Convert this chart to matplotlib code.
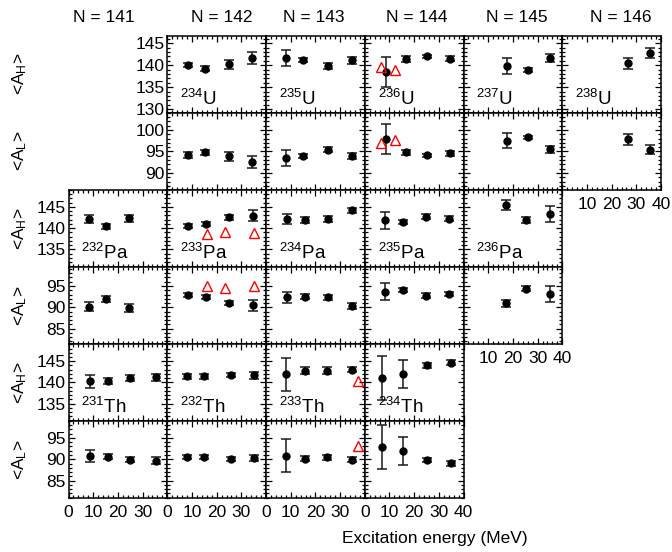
import matplotlib
matplotlib.use("Agg")
import matplotlib.pyplot as plt
from matplotlib.ticker import MultipleLocator, FixedLocator, NullFormatter

plt.rcParams['font.family'] = ['Liberation Sans', 'DejaVu Sans']
plt.rcParams['mathtext.fontset'] = 'custom'
plt.rcParams['mathtext.rm'] = 'Liberation Sans'
plt.rcParams['mathtext.it'] = 'Liberation Sans:italic'

# ---------------- data ----------------
columns = ["N = 141", "N = 142", "N = 143", "N = 144", "N = 145", "N = 146"]

# Uranium
E_234U = [8.6, 15.4, 25.1, 34.3]
AH_234U = [140.0, 139.25, 140.2, 141.65]
AHe_234U = [0.5, 0.6, 1.0, 1.45]
AL_234U = [94.17, 94.86, 93.85, 92.54]
ALe_234U = [0.6, 0.6, 1.0, 1.4]

E_235U = [8.0, 15.1, 25.2, 34.7]
AH_235U = [141.7, 141.2, 139.85, 141.1]
AHe_235U = [1.8, 0.5, 0.7, 0.8]
AL_235U = [93.5, 94.0, 95.4, 94.0]
ALe_235U = [1.85, 0.5, 0.6, 0.7]

E_236U = [8.5, 16.6, 25.2, 34.7]
AH_236U = [138.5, 141.4, 142.0, 141.5]
AHe_236U = [3.4, 0.6, 0.4, 0.5]
AL_236U = [97.9, 94.8, 94.1, 94.55]
ALe_236U = [3.5, 0.5, 0.4, 0.5]
Etri_236U = [6.4, 12.4]
AHtri_236U = [139.7, 138.9]
ALtri_236U = [96.9, 97.7]

E_237U = [17.7, 26.0, 35.2]
AH_237U = [139.85, 138.9, 141.65]
AHe_237U = [1.8, 0.4, 1.0]
AL_237U = [97.5, 98.3, 95.55]
ALe_237U = [1.8, 0.4, 0.8]

E_238U = [26.6, 35.6]
AH_238U = [140.4, 142.7]
AHe_238U = [1.3, 1.1]
AL_238U = [97.85, 95.4]
ALe_238U = [1.3, 1.0]

# Protactinium
E_232Pa = [8.2, 15.0, 24.4]
AH_232Pa = [142.1, 140.4, 142.35]
AHe_232Pa = [1.0, 0.6, 0.8]
AL_232Pa = [90.15, 91.95, 89.9]
ALe_232Pa = [1.0, 0.6, 0.9]

E_233Pa = [8.4, 15.7, 25.1, 34.7]
AH_233Pa = [140.55, 140.9, 142.5, 142.95]
AHe_233Pa = [0.5, 0.5, 0.6, 1.3]
AL_233Pa = [92.9, 92.5, 90.95, 90.5]
ALe_233Pa = [0.5, 0.5, 0.5, 1.3]
Etri_233Pa = [16.1, 23.2, 35.2]
AHtri_233Pa = [138.7, 139.2, 138.8]
ALtri_233Pa = [94.9, 94.6, 94.9]

E_234Pa = [8.6, 15.8, 25.2, 35.0]
AH_234Pa = [142.1, 141.95, 142.2, 144.2]
AHe_234Pa = [1.2, 0.7, 0.7, 0.6]
AL_234Pa = [92.3, 92.5, 92.3, 90.3]
ALe_234Pa = [1.25, 0.6, 0.7, 0.6]

E_235Pa = [8.1, 15.3, 25.0, 34.2]
AH_235Pa = [141.9, 141.4, 142.7, 142.25]
AHe_235Pa = [2.0, 0.5, 0.5, 0.5]
AL_235Pa = [93.7, 94.1, 92.75, 93.15]
ALe_235Pa = [2.0, 0.5, 0.5, 0.5]

E_236Pa = [17.1, 25.4, 35.2]
AH_236Pa = [145.45, 142.0, 143.35]
AHe_236Pa = [1.1, 0.7, 1.9]
AL_236Pa = [90.95, 94.4, 93.1]
ALe_236Pa = [0.8, 0.6, 1.9]

# Thorium
E_231Th = [8.8, 16.0, 25.0, 35.4]
AH_231Th = [140.25, 140.4, 141.0, 141.2]
AHe_231Th = [1.5, 0.7, 0.7, 0.8]
AL_231Th = [90.7, 90.55, 89.9, 89.7]
ALe_231Th = [1.4, 0.6, 0.6, 0.8]

E_232Th = [7.9, 15.0, 25.7, 35.1]
AH_232Th = [141.4, 141.4, 141.8, 141.65]
AHe_232Th = [0.6, 0.6, 0.5, 0.8]
AL_232Th = [90.55, 90.55, 90.05, 90.2]
ALe_232Th = [0.5, 0.5, 0.5, 0.7]

E_233Th = [8.1, 15.8, 24.7, 34.7]
AH_233Th = [141.95, 142.75, 142.75, 143.05]
AHe_233Th = [3.9, 0.8, 0.8, 0.7]
AL_233Th = [90.85, 90.15, 90.45, 89.85]
ALe_233Th = [3.9, 0.6, 0.6, 0.6]
Etri_233Th = [37.1]
AHtri_233Th = [140.4]
ALtri_233Th = [93.05]

E_234Th = [7.1, 15.6, 25.2, 34.8]
AH_234Th = [141.0, 141.95, 144.0, 144.7]
AHe_234Th = [5.2, 3.3, 0.6, 0.6]
AL_234Th = [92.8, 92.0, 89.85, 89.05]
ALe_234Th = [5.2, 3.3, 0.5, 0.6]

# (mass, element, row block, column, E, AH, AHerr, AL, ALerr, triangles)
nuclides = [
    ("234", "U", 0, 1, E_234U, AH_234U, AHe_234U, AL_234U, ALe_234U, None),
    ("235", "U", 0, 2, E_235U, AH_235U, AHe_235U, AL_235U, ALe_235U, None),
    ("236", "U", 0, 3, E_236U, AH_236U, AHe_236U, AL_236U, ALe_236U,
     (Etri_236U, AHtri_236U, ALtri_236U)),
    ("237", "U", 0, 4, E_237U, AH_237U, AHe_237U, AL_237U, ALe_237U, None),
    ("238", "U", 0, 5, E_238U, AH_238U, AHe_238U, AL_238U, ALe_238U, None),
    ("232", "Pa", 1, 0, E_232Pa, AH_232Pa, AHe_232Pa, AL_232Pa, ALe_232Pa, None),
    ("233", "Pa", 1, 1, E_233Pa, AH_233Pa, AHe_233Pa, AL_233Pa, ALe_233Pa,
     (Etri_233Pa, AHtri_233Pa, ALtri_233Pa)),
    ("234", "Pa", 1, 2, E_234Pa, AH_234Pa, AHe_234Pa, AL_234Pa, ALe_234Pa, None),
    ("235", "Pa", 1, 3, E_235Pa, AH_235Pa, AHe_235Pa, AL_235Pa, ALe_235Pa, None),
    ("236", "Pa", 1, 4, E_236Pa, AH_236Pa, AHe_236Pa, AL_236Pa, ALe_236Pa, None),
    ("231", "Th", 2, 0, E_231Th, AH_231Th, AHe_231Th, AL_231Th, ALe_231Th, None),
    ("232", "Th", 2, 1, E_232Th, AH_232Th, AHe_232Th, AL_232Th, ALe_232Th, None),
    ("233", "Th", 2, 2, E_233Th, AH_233Th, AHe_233Th, AL_233Th, ALe_233Th,
     (Etri_233Th, AHtri_233Th, ALtri_233Th)),
    ("234", "Th", 2, 3, E_234Th, AH_234Th, AHe_234Th, AL_234Th, ALe_234Th, None),
]

ylims_AH = [(129.2, 146.7), (130.9, 149.0), (130.9, 149.1)]
ylims_AL = [(86.1, 104.0), (81.4, 99.5), (80.9, 99.0)]
yticks_AH = [[130, 135, 140, 145], [135, 140, 145], [135, 140, 145]]
yticks_AL = [[90, 95, 100], [85, 90, 95], [85, 90, 95]]
first_col = [1, 0, 0]

# ---------------- layout ----------------
W, H = 672, 552
fig = plt.figure(figsize=(W / 100, H / 100), dpi=100)
X0, CW = 68.5, 98.75
Y0, RH = 35.7, 77.05
FS = 12.5


def make_ax(row, col):
    xl = X0 + col * CW
    yt = Y0 + row * RH
    ax = fig.add_axes([xl / W, 1 - (yt + RH) / H, CW / W, RH / H])
    ax.set_xlim(0, 40)
    ax.xaxis.set_major_locator(MultipleLocator(10))
    ax.xaxis.set_minor_locator(MultipleLocator(2))
    ax.yaxis.set_major_locator(MultipleLocator(5))
    ax.yaxis.set_minor_locator(MultipleLocator(1))
    ax.tick_params(which='both', direction='in', top=True, right=True,
                   labelsize=FS, width=0.9, pad=2)
    ax.tick_params(which='major', length=4.5)
    ax.tick_params(which='minor', length=2.2)
    for s in ax.spines.values():
        s.set_linewidth(1.1)
    ax.xaxis.set_major_formatter(NullFormatter())
    ax.yaxis.set_major_formatter(NullFormatter())
    return ax


def draw(ax, E, y, ye):
    ax.errorbar(E, y, yerr=ye, fmt='o', color='black', ms=5.0,
                ecolor='#1a1a1a', elinewidth=1.1, capsize=3.4, capthick=1.1,
                clip_on=False, zorder=3)


for (mass, el, blk, col, E, AH, AHe, AL, ALe, tri) in nuclides:
    axh = make_ax(2 * blk, col)
    axl = make_ax(2 * blk + 1, col)
    axh.set_ylim(*ylims_AH[blk])
    axl.set_ylim(*ylims_AL[blk])
    draw(axh, E, AH, AHe)
    draw(axl, E, AL, ALe)
    if tri is not None:
        Et, AHt, ALt = tri
        axh.plot(Et, AHt, '^', ms=7.5, mfc='none', mec='red', mew=1.0,
                 clip_on=False, zorder=4)
        axl.plot(Et, ALt, '^', ms=7.5, mfc='none', mec='red', mew=1.0,
                 clip_on=False, zorder=4)
    axh.text(0.13, 0.045, r'$^{%s}$' % mass + el, transform=axh.transAxes,
             fontsize=13.5, ha='left', va='bottom')
    if col == first_col[blk]:
        axh.yaxis.set_major_locator(FixedLocator(yticks_AH[blk]))
        axl.yaxis.set_major_locator(FixedLocator(yticks_AL[blk]))
        axh.yaxis.set_major_formatter(plt.FuncFormatter(lambda v, p: '%d' % v))
        axl.yaxis.set_major_formatter(plt.FuncFormatter(lambda v, p: '%d' % v))
    # x tick labels
    fmt = None
    if blk == 2:
        if col == 3:
            fmt = [0, 10, 20, 30, 40]
        else:
            fmt = [0, 10, 20, 30]
    elif (blk == 1 and col == 4) or (blk == 0 and col == 5):
        fmt = [10, 20, 30, 40]
    if fmt is not None:
        axl.xaxis.set_major_formatter(
            plt.FuncFormatter(lambda v, p, f=fmt: ('%d' % v) if int(round(v)) in f else ''))
        axl.tick_params(axis='x', pad=5)

# column headers
header_x = [104, 222, 314, 417, 517, 621]
for hx, txt in zip(header_x, columns):
    fig.text(hx / W, 1 - 18 / H, txt, ha='center', va='center', fontsize=FS)

# row labels
row_centers = [Y0 + (i + 0.5) * RH for i in range(6)]
for i, yc in enumerate(row_centers):
    lab = r'<A$_{\mathrm{H}}$>' if i % 2 == 0 else r'<A$_{\mathrm{L}}$>'
    fig.text(20 / W, 1 - yc / H, lab, rotation=90, ha='center', va='center',
             fontsize=FS)

fig.text(435 / W, 1 - 538 / H, 'Excitation energy (MeV)', ha='center',
         va='center', fontsize=FS)

fig.savefig('out.png', dpi=100)
